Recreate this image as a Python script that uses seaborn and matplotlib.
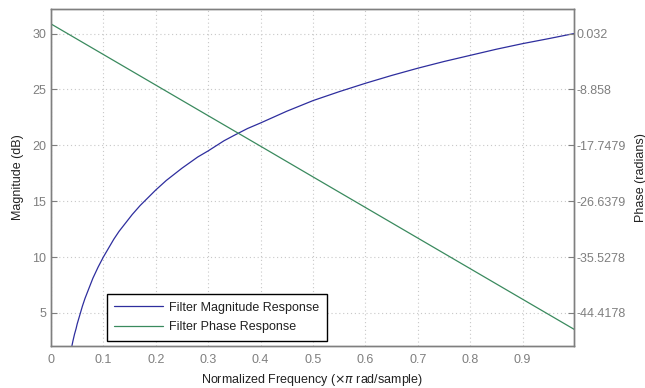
import matplotlib
matplotlib.use("Agg")
import matplotlib.pyplot as plt
import seaborn as sns
import pandas as pd

# magnitude response (dB)
mag_freq = [0.04, 0.042, 0.045, 0.048, 0.05, 0.055, 0.06, 0.065, 0.07, 0.075, 0.08, 0.09,
            0.1, 0.11, 0.12, 0.13, 0.14, 0.155, 0.17, 0.185, 0.2, 0.22, 0.235, 0.25, 0.265, 0.28,
            0.3, 0.33, 0.35, 0.375, 0.4, 0.45, 0.5, 0.55, 0.6, 0.65, 0.7, 0.75, 0.8, 0.85, 0.9, 0.95, 0.998]
mag_db = [2.05, 2.5, 3.1, 3.6, 4.0, 4.8, 5.6, 6.3, 6.9, 7.5, 8.1, 9.1,
          10.0, 10.8, 11.6, 12.3, 12.9, 13.8, 14.6, 15.3, 16.0, 16.85, 17.4, 17.95, 18.45, 18.95,
          19.5, 20.4, 20.9, 21.5, 22.0, 23.05, 24.0, 24.8, 25.55, 26.25, 26.9, 27.5, 28.05, 28.6, 29.1, 29.55, 30.0]

# phase response (radians)
phase_freq = [0.0, 0.1, 0.2, 0.3, 0.4, 0.5, 0.6, 0.7, 0.8, 0.9, 0.998]
phase_rad = [1.57, -3.30, -8.17, -13.04, -17.90, -22.78, -27.65, -32.52, -37.39, -42.26, -47.03]

phase_ticks = [0.032, -8.858, -17.7479, -26.6379, -35.5278, -44.4178]
phase_tick_labels = ["0.032", "-8.858", "-17.7479", "-26.6379", "-35.5278", "-44.4178"]

mag_df = pd.DataFrame({"freq": mag_freq, "db": mag_db})
phase_df = pd.DataFrame({"freq": phase_freq, "rad": phase_rad})

sns.set_style("white")
plt.rcParams["font.family"] = ["Liberation Sans", "DejaVu Sans"]

blue = "#2e2e9e"
green = "#3a8a5e"
grey = "#7f7f7f"

fig, ax = plt.subplots(figsize=(6.45, 3.88), dpi=100)
fig.subplots_adjust(left=0.079, right=0.890, bottom=0.109, top=0.978)

# map phase onto the dB axis (right axis ticks line up with left ticks)
db_lo, db_hi = 2.06, 32.24
scale = 8.88995 / 5.0
ph_lo = 0.032 + (db_lo - 30) * scale
ph_hi = 0.032 + (db_hi - 30) * scale

sns.lineplot(data=mag_df, x="freq", y="db", ax=ax, color=blue, lw=0.9,
             label="Filter Magnitude Response")
ax2 = ax.twinx()
sns.lineplot(data=phase_df, x="freq", y="rad", ax=ax2, color=green, lw=0.9,
             label="Filter Phase Response")

ax.set_xlim(0, 0.998)
ax.set_ylim(db_lo, db_hi)
ax2.set_ylim(ph_lo, ph_hi)

ax.set_xticks([0, 0.1, 0.2, 0.3, 0.4, 0.5, 0.6, 0.7, 0.8, 0.9])
ax.set_xticklabels(["0", "0.1", "0.2", "0.3", "0.4", "0.5", "0.6", "0.7", "0.8", "0.9"])
ax.set_yticks([5, 10, 15, 20, 25, 30])
ax2.set_yticks(phase_ticks)
ax2.set_yticklabels(phase_tick_labels)

ax.grid(True, color="#c8c8c8", linestyle=(0, (1, 2.5)), lw=0.8)
ax.set_axisbelow(True)

for a in (ax, ax2):
    for s in a.spines.values():
        s.set_color(grey)
        s.set_linewidth(1.0)
    a.tick_params(direction="in", length=4, width=0.8, color=grey,
                  labelcolor=grey, labelsize=9)
ax.tick_params(axis="x", pad=6)
ax2.tick_params(axis="y", pad=2)

ax.set_xlabel("Normalized Frequency ($\\times\\pi$ rad/sample)", fontsize=9, color="#222222", labelpad=4)
ax.set_ylabel("Magnitude (dB)", fontsize=9, color="#222222", labelpad=6)
ax2.set_ylabel("Phase (radians)", fontsize=9, color="#222222", labelpad=6)

# combined legend, drawn on the twin axes so it sits on top
h1, l1 = ax.get_legend_handles_labels()
h2, l2 = ax2.get_legend_handles_labels()
ax.get_legend().remove()
ax2.get_legend().remove()
leg = ax2.legend(h1 + h2, l1 + l2, loc="lower left", bbox_to_anchor=(0.107, 0.015),
                 borderaxespad=0, fontsize=9, frameon=True, fancybox=False,
                 handlelength=3.9, handletextpad=0.5, borderpad=0.6, labelspacing=0.6,
                 framealpha=1)
leg.get_frame().set_edgecolor("black")
leg.get_frame().set_linewidth(1.0)
for t in leg.get_texts():
    t.set_color("#222222")

fig.savefig("out.png", dpi=100)
